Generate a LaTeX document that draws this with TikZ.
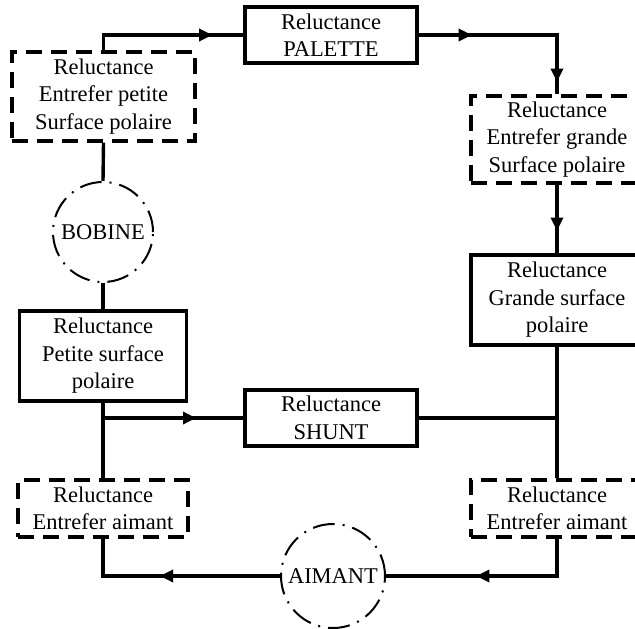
\documentclass[tikz,border=0pt]{standalone}
\usepackage{fontspec}
\setmainfont{Liberation Serif}
\usetikzlibrary{arrows.meta,decorations.markings}
\tikzset{
  lbl/.style={align=center,inner sep=0pt,font=\fontsize{22.5}{27.5}\selectfont},
  sbox/.style={lbl,draw,line width=3.4pt,minimum width=#1},
  dbox/.style={lbl,draw,line width=3.4pt,dash pattern=on 16pt off 9pt,minimum width=#1},
  circ/.style={lbl,circle,draw,line width=2pt,dash pattern=on 22pt off 8pt on 2pt off 8pt,minimum size=#1},
  wire/.style={line width=3.4pt},
  arr/.style={wire,postaction={decorate},decoration={markings,mark=at position #1 with {\arrow{Triangle[length=13pt,width=12pt]}}}}
}
\begin{document}
\begin{tikzpicture}[x=1pt,y=-1pt]
\useasboundingbox (0,0) rectangle (635,629);
\clip (0,0) rectangle (635,629);
\fill[white] (0,0) rectangle (635,629);
\node[dbox=183pt,minimum height=89pt] (lt) at (103.5,96.5) {Reluctance\\Entrefer petite\\Surface polaire};
\node[sbox=172pt,minimum height=56pt] (pal) at (331,35) {Reluctance\\PALETTE};
\node[dbox=172pt,minimum height=87pt] (rt) at (557,139.5) {Reluctance\\Entrefer grande\\Surface polaire};
\node[sbox=172pt,minimum height=90pt] (gr) at (557,300) {Reluctance\\Grande surface\\polaire};
\node[sbox=172pt,minimum height=56pt] (sh) at (331,418) {Reluctance\\SHUNT};
\node[sbox=167pt,minimum height=90pt] (pe) at (103,356) {Reluctance\\Petite surface\\polaire};
\node[dbox=170pt,minimum height=57pt] (la) at (103,508.5) {Reluctance\\Entrefer aimant};
\node[dbox=172pt,minimum height=57pt] (ra) at (557,508.5) {Reluctance\\Entrefer aimant};
\node[circ=100pt] (bob) at (103,232) {BOBINE};
\node[circ=104pt] (aim) at (333,576) {AIMANT};
\coordinate (j1) at (pe.south |- sh.west);
\coordinate (j2) at (gr.south |- sh.east);
\draw[arr=124pt] (lt.north) |- (pal.west);
\draw[arr=53pt] (pal.east) -| (rt.north);
\draw[arr=185pt] (pal.east) -| (rt.north);
\draw[arr=46pt] (rt.south) -- (gr.north);
\draw[wire] (gr.south) -- (ra.north);
\draw[wire] (sh.east) -- (j2);
\draw[wire] (lt.south) -- (bob.north);
\draw[wire] (bob.south) -- (pe.north);
\draw[wire] (pe.south) -- (la.north);
\draw[arr=93pt] (j1) -- (sh.west);
\draw[arr=118pt] (ra.south) |- (aim.east);
\draw[arr=120pt] (aim.west) -| (la.south);
\end{tikzpicture}
\end{document}
